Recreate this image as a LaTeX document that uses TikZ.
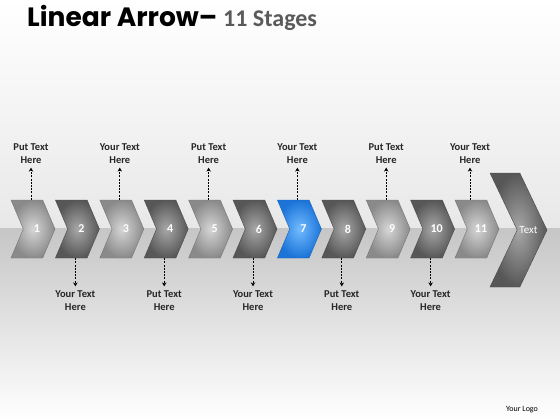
\documentclass[tikz,border=0pt]{standalone}
\usepackage{fontspec}
\setmainfont{Carlito}
\newfontfamily\titlefont{Poppins}
\newfontfamily\stagefont{Carlito}
\usepackage{tikz}
\usepackage{xcolor}
\usetikzlibrary{shapes.symbols,arrows.meta}

\definecolor{lightin}{HTML}{D6D6D6}
\definecolor{lightout}{HTML}{8A8A8A}
\definecolor{darkin}{HTML}{A8A8A8}
\definecolor{darkout}{HTML}{575757}
\definecolor{bluein}{HTML}{72BCFF}
\definecolor{blueout}{HTML}{1C74D8}
\definecolor{titlegray}{HTML}{5A5A5A}

\tikzset{
  chev/.style={signal, signal to=east, signal from=west, signal pointer angle=134,
    minimum width=44pt, minimum height=58pt, inner sep=0pt,
    draw=#1out!85!black, line width=0.4pt, inner color=#1in, outer color=#1out},
  num/.style={text=white, font=\bfseries\fontsize{12}{12}\selectfont, xshift=4pt},
  txt/.style={align=center, font=\bfseries\fontsize{10.5}{13}\selectfont, inner sep=4pt, text=black!85},
  dasharrow/.style={-{Stealth[length=4pt,width=4.5pt]}, line width=0.7pt, dash pattern=on 2pt off 1.2pt}
}

\begin{document}
\begin{tikzpicture}[x=1pt,y=-1pt]

\useasboundingbox (0,0) rectangle (560,420);
% background
\fill[top color=white, bottom color=gray!18] (0,0) rectangle (560,228);
\fill[top color=gray!45, bottom color=white] (0,228) rectangle (560,420);

\node(title) [anchor=base west, inner sep=0pt] at (27,27)
  {\titlefont\fontsize{26.5}{26.5}\selectfont\bfseries Linear Arrow–};
\node(stages) [anchor=base west, inner sep=0pt, text=titlegray] at (223,27)
  {\stagefont\bfseries\fontsize{24}{24}\selectfont 11 Stages};

% stages
\node(c1) [chev=light, label={[num]center:1}] at (33,229) {};
\node(c2) [chev=dark, label={[num]center:2}] at (77.4,229) {};
\node(c3) [chev=light, label={[num]center:3}] at (121.8,229) {};
\node(c4) [chev=dark, label={[num]center:4}] at (166.2,229) {};
\node(c5) [chev=light, label={[num]center:5}] at (210.6,229) {};
\node(c6) [chev=dark, label={[num]center:6}] at (255,229) {};
\node(c7) [chev=blue, label={[num]center:7}] at (299.4,229) {};
\node(c8) [chev=dark, label={[num]center:8}] at (343.8,229) {};
\node(c9) [chev=light, label={[num]center:9}] at (388.2,229) {};
\node(c10) [chev=dark, label={[num]center:10}] at (432.6,229) {};
\node(c11) [chev=light, label={[num]center:11}] at (477,229) {};
\node(big) [chev=dark, signal pointer angle=129, minimum width=57pt, minimum height=114pt,
  label={[num, font=\fontsize{11}{11}\selectfont, xshift=6pt]center:Text}] at (518.5,230) {};

% texts above
\node(t1) [txt] at (31,153.5) {Put Text\\Here};
\node(t3) [txt] at (119.8,153.5) {Your Text\\Here};
\node(t5) [txt] at (208.6,153.5) {Put Text\\Here};
\node(t7) [txt] at (297.4,153.5) {Your Text\\Here};
\node(t9) [txt] at (386.2,153.5) {Put Text\\Here};
\node(t11) [txt] at (470,153.5) {Your Text\\Here};
% texts below
\node(t2) [txt] at (75.4,300.5) {Your Text\\Here};
\node(t4) [txt] at (164.2,300.5) {Put Text\\Here};
\node(t6) [txt] at (253,300.5) {Your Text\\Here};
\node(t8) [txt] at (341.8,300.5) {Put Text\\Here};
\node(t10) [txt] at (430.6,300.5) {Your Text\\Here};

\draw [dasharrow] (c1.north -| t1) -- (t1);
\draw [dasharrow] (c3.north -| t3) -- (t3);
\draw [dasharrow] (c5.north -| t5) -- (t5);
\draw [dasharrow] (c7.north -| t7) -- (t7);
\draw [dasharrow] (c9.north -| t9) -- (t9);
\draw [dasharrow] (c11.north -| t11) -- (t11);
\draw [dasharrow] (c2.south -| t2) -- (t2);
\draw [dasharrow] (c4.south -| t4) -- (t4);
\draw [dasharrow] (c6.south -| t6) -- (t6);
\draw [dasharrow] (c8.south -| t8) -- (t8);
\draw [dasharrow] (c10.south -| t10) -- (t10);

\node(logo) at (522,410) {\fontsize{8}{8}\selectfont Your Logo};

\end{tikzpicture}
\end{document}
